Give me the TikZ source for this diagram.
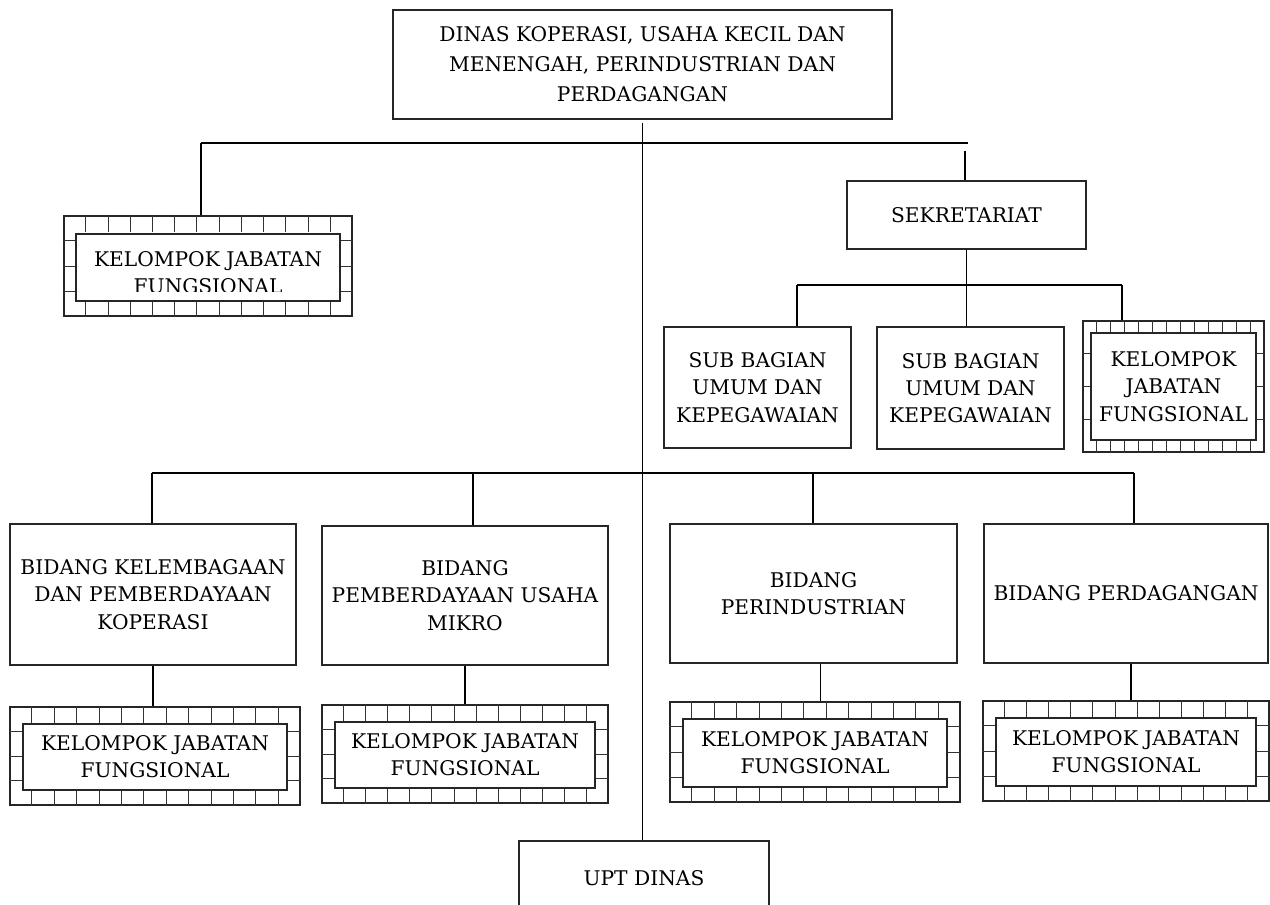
\documentclass[tikz,border=0pt]{standalone}
\usepackage{fontspec}
\setmainfont{DejaVu Serif}
\usetikzlibrary{positioning, calc}
\tikzset{%
	boxsize/.style 2 args={minimum width=(#1)*0.02cm, minimum height=(#2)*0.02cm},
	unit/.style={draw, rectangle, align=center, inner sep=0mm, line width=0.8pt,%
		draw=black!85, font=\fontsize{11.5}{15.5}\selectfont},
	kjf/.style={draw, rectangle, inner sep=0mm, line width=0.6pt, draw=black!85},
	kjfin/.style={unit, fill=white},
	brick/.style={line width=0.5pt, draw=black!80},
	connector/.style={line width=0.6pt}
}
% brick border: outer node, row height, column width
\newcommand{\bricks}[3]{%
	\foreach \i in {1,...,12} {
		\draw[brick] ($(#1.north west)!\i/13!(#1.north east)$) -- ++(0,#2);
		\draw[brick] ($(#1.south west)!\i/13!(#1.south east)$) -- ++(0,-#2);
	}
	\foreach \j in {1,2,3} {
		\draw[brick] ($(#1.north west)!\j/4!(#1.south west)$) -- ++(#3,0);
		\draw[brick] ($(#1.north east)!\j/4!(#1.south east)$) -- ++(-#3,0);
	}
}

\begin{document}
\begin{tikzpicture}[x=0.02cm, y=-0.02cm]
	\useasboundingbox (0,0) rectangle (1270,905);

	% top
	\node[unit, boxsize={499}{109}, font=\fontsize{11.5}{17}\selectfont] (dinas) at (642.5,64.5)
		{DINAS KOPERASI, USAHA KECIL DAN\\MENENGAH, PERINDUSTRIAN DAN\\PERDAGANGAN};
	\node[unit, boxsize={250}{74}] (upt) at (644,878) {UPT DINAS};

	% kelompok jabatan fungsional (left)
	\node[kjf, boxsize={288}{100}] (kjf0) at (208,266) {};
	\bricks{kjf0}{17}{12}
	\node[kjfin, boxsize={264}{67}] (kjf0in) at (208,267.5) {};
	\begin{scope}
		\clip (kjf0in.north west) rectangle ($(kjf0in.south east)+(0,-10)$);
		\node[align=center, font=\fontsize{11.5}{15.5}\selectfont] (kjf0txt) at ($(kjf0in.center)+(0,5)$)
			{KELOMPOK JABATAN\\FUNGSIONAL};
	\end{scope}

	% sekretariat
	\node[unit, boxsize={239}{68}] (sek) at (966.5,215) {SEKRETARIAT};
	\node[unit, boxsize={187}{121}] (sub1) at (757.5,387.5) {SUB BAGIAN\\UMUM DAN\\KEPEGAWAIAN};
	\node[unit, boxsize={187}{122}] (sub2) at (970.5,388) {SUB BAGIAN\\UMUM DAN\\KEPEGAWAIAN};
	\node[kjf, boxsize={181}{131}] (kjfs) at (1173.5,386.5) {};
	\bricks{kjfs}{12}{8}
	\node[kjfin, boxsize={165}{107}] (kjfsin) at (kjfs) {KELOMPOK\\JABATAN\\FUNGSIONAL};

	% bidang
	\node[unit, boxsize={286}{141}] (bid1) at (153,594.5) {BIDANG KELEMBAGAAN\\DAN PEMBERDAYAAN\\KOPERASI};
	\node[unit, boxsize={286}{139}] (bid2) at (465,595.5) {BIDANG\\PEMBERDAYAAN USAHA\\MIKRO};
	\node[unit, boxsize={287}{139}] (bid3) at (813.5,593.5) {BIDANG\\PERINDUSTRIAN};
	\node[unit, boxsize={284}{139}] (bid4) at (1126,593.5) {BIDANG PERDAGANGAN};

	\foreach \k/\x/\y/\w/\h in {1/155/756/290/98, 2/465/754/286/98, 3/815/752/290/100, 4/1126/751/286/100} {
		\node[kjf, boxsize={\w}{\h}] (kjf\k) at (\x,\y) {};
		\bricks{kjf\k}{17}{13}
		\node[kjfin, boxsize={\w-26}{\h-32}] (kjf\k in) at (\x,\y+1) {KELOMPOK JABATAN\\FUNGSIONAL};
	}

	% lines
	\coordinate (hl) at (201,143);
	\coordinate (hr) at (968,143);
	\coordinate (sekin) at (965,151);
	\coordinate (s1) at (797,285);
	\coordinate (s3) at (1122,285);
	\coordinate (b1) at (152,473);
	\coordinate (b2) at (473,473);
	\coordinate (b3) at (813,473);
	\coordinate (b4) at (1134,473);

	\draw[connector] ($(dinas.south)+(0,3)$) -- (dinas.south |- upt.north);
	\draw[connector] (hl) -- (hr);
	\draw[connector] (hl) -- (hl |- kjf0.north);
	\draw[connector] (sekin) -- (sekin |- sek.north);
	\draw[connector] (sek.south) -- (sek.south |- sub2.north);
	\draw[connector] (s1) -- (s3);
	\draw[connector] (s1) -- (s1 |- sub1.north);
	\draw[connector] (s3) -- (s3 |- kjfs.north);
	\draw[connector] (b1) -- (b4);
	\draw[connector] (b1) -- (b1 |- bid1.north);
	\draw[connector] (b2) -- (b2 |- bid2.north);
	\draw[connector] (b3) -- (b3 |- bid3.north);
	\draw[connector] (b4) -- (b4 |- bid4.north);
	\draw[connector] (bid1.south) -- (bid1.south |- kjf1.north);
	\draw[connector] (bid2.south) -- (bid2.south |- kjf2.north);
	\draw[connector] ([xshift=0.14cm]bid3.south) -- ([xshift=0.14cm]bid3.south |- kjf3.north);
	\draw[connector] ([xshift=0.1cm]bid4.south) -- ([xshift=0.1cm]bid4.south |- kjf4.north);
\end{tikzpicture}
\end{document}
